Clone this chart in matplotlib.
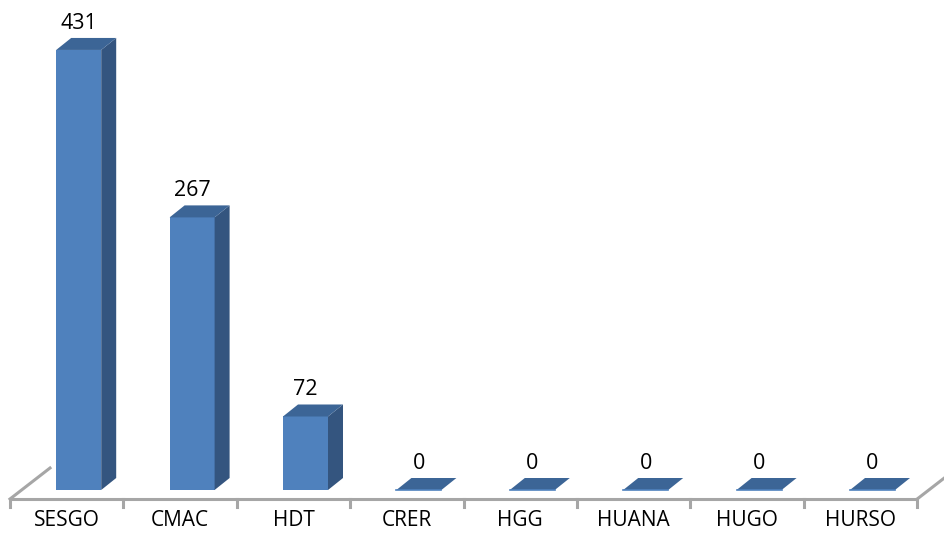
import matplotlib.pyplot as plt
from matplotlib.patches import Polygon

categories = ["SESGO", "CMAC", "HDT", "CRER", "HGG", "HUANA", "HUGO", "HURSO"]
values = [431, 267, 72, 0, 0, 0, 0, 0]

FRONT = "#4F81BD"
SIDE = "#34557F"
TOP = "#3C6596"
AXIS = "#A6A6A6"

# pixel-based helpers for the fake 3D look
PX_X = 113.4          # pixels per category
PX_Y = 1.021          # pixels per value unit


def px(dx, dy):
    """convert a pixel offset (right, up) into data units"""
    return dx / PX_X, dy / PX_Y


fig = plt.figure(figsize=(9.44, 5.51), dpi=100)
ax = fig.add_axes([0, 0, 1, 1])
ax.set_xlim((0 - 10) / PX_X - 0.5, (944 - 10) / PX_X - 0.5)
ax.set_ylim(-(551 - 490) / PX_Y, 490 / PX_Y)
ax.axis("off")

n = len(categories)

# floor: front edge, side edges and ticks
fx0, fy0 = px(0, -9)
back_dx, back_dy = px(40, 31)
left = -0.5
right = n - 0.5
ax.plot([left, right], [fy0, fy0], color=AXIS, lw=2.2, solid_capstyle="butt", zorder=1)
ax.plot([left, left + back_dx], [fy0, fy0 + back_dy], color=AXIS, lw=2.2, zorder=1)
ax.plot([right, right + back_dx], [fy0, fy0 + back_dy], color=AXIS, lw=2.2, zorder=1)
tick_len = px(0, 8)[1]
for i in range(n + 1):
    ax.plot([i - 0.5, i - 0.5], [fy0, fy0 - tick_len], color=AXIS, lw=2.2, zorder=1)

# bars
ofx, _ = px(12, 0)
hw, _ = px(22.5, 0)
ddx, ddy = px(15, 12)
for i, (cat, v) in enumerate(zip(categories, values)):
    cx = i + ofx
    x0, x1 = cx - hw, cx + hw
    if v > 0:
        ax.add_patch(Polygon([(x0, 0), (x1, 0), (x1, v), (x0, v)],
                             closed=True, facecolor=FRONT, edgecolor="none", zorder=3))
        ax.add_patch(Polygon([(x1, 0), (x1 + ddx, ddy), (x1 + ddx, v + ddy), (x1, v)],
                             closed=True, facecolor=SIDE, edgecolor="none", zorder=3))
    ax.add_patch(Polygon([(x0, v), (x1, v), (x1 + ddx, v + ddy), (x0 + ddx, v + ddy)],
                         closed=True, facecolor=TOP, edgecolor="none", zorder=3))
    if v == 0:
        ax.plot([x0, x1], [0, 0], color=FRONT, lw=1.2, zorder=4)

    ax.text(cx, v + ddy + px(0, 4)[1], str(v), ha="center", va="bottom",
            fontsize=15.5, family="Open Sans", color="black")
    ax.text(i, px(0, -31)[1], cat, ha="center", va="center",
            fontsize=15, family="Open Sans", color="black")

fig.savefig("out.png", dpi=100)
